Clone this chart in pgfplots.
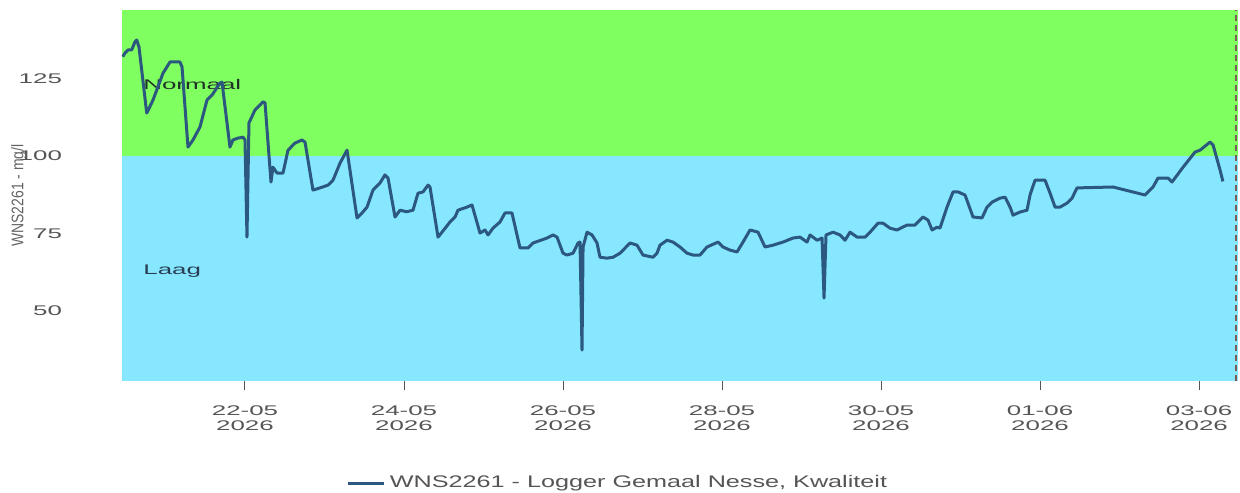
\documentclass[border=0pt]{standalone}
\usepackage{fontspec}
\setmainfont{Liberation Sans}
\newfontfamily\tickfont{Liberation Sans}[FakeStretch=1.85]
\newfontfamily\legfont{Liberation Sans}[FakeStretch=1.5]
\newfontfamily\ylabfont{Liberation Sans}[FakeStretch=0.83]
\usepackage{pgfplots}
\pgfplotsset{compat=1.18}
\definecolor{bandgreen}{RGB}{128,255,96}
\definecolor{bandblue}{RGB}{135,231,255}
\definecolor{linecol}{RGB}{44,88,128}
\definecolor{tickgray}{RGB}{85,85,85}
\definecolor{labgray}{RGB}{100,100,100}
\definecolor{nowcol}{RGB}{125,90,85}
\definecolor{normcol}{RGB}{30,50,40}
\definecolor{laagcol}{RGB}{40,62,82}

\pgfplotstableread{
d v
-0.538 132.1
-0.509 133.3
-0.472 134.3
-0.425 134.3
-0.384 136.9
-0.362 137.5
-0.333 135.2
-0.236 113.9
-0.216 114.9
-0.157 118.1
-0.031 126.8
0.057 130.4
0.182 130.4
0.208 128.8
0.283 102.9
0.346 105.2
0.434 109.4
0.522 118.1
0.585 119.7
0.686 123.6
0.711 123.9
0.811 102.9
0.849 105.2
0.912 105.8
0.975 106.1
1.000 105.2
1.025 73.8
1.050 110.7
1.126 114.9
1.226 117.5
1.252 117.2
1.327 91.6
1.352 96.4
1.403 94.5
1.478 94.5
1.541 101.9
1.629 104.2
1.717 105.2
1.755 104.5
1.855 89.0
1.943 89.7
2.044 90.6
2.107 92.2
2.195 97.7
2.283 101.9
2.296 99.7
2.409 80.0
2.472 81.6
2.535 83.5
2.610 89.0
2.698 91.3
2.761 93.9
2.799 92.9
2.887 80.3
2.950 82.5
3.034 82.0
3.113 82.5
3.176 88.0
3.239 88.4
3.302 90.6
3.327 90.0
3.428 73.8
3.478 75.4
3.579 78.7
3.642 80.3
3.679 82.5
3.792 83.5
3.855 84.2
3.956 75.1
4.019 76.1
4.057 74.5
4.119 76.7
4.208 78.7
4.270 81.6
4.358 81.6
4.459 70.3
4.560 70.3
4.623 71.9
4.799 73.5
4.874 74.5
4.925 73.8
5.000 68.6
5.050 68.0
5.126 68.6
5.189 71.9
5.214 72.2
5.239 37.3
5.252 70.6
5.302 75.4
5.365 74.5
5.428 71.9
5.465 67.3
5.553 67.0
5.629 67.3
5.717 68.6
5.843 71.9
5.931 71.2
6.006 68.0
6.132 67.3
6.182 68.6
6.220 71.2
6.308 72.8
6.384 72.2
6.472 70.6
6.560 68.6
6.635 68.0
6.723 68.0
6.811 70.6
6.950 72.2
7.013 70.6
7.101 69.6
7.189 69.0
7.264 72.2
7.352 76.1
7.453 75.4
7.541 70.6
7.642 71.2
7.767 72.2
7.893 73.5
7.981 73.8
8.069 72.2
8.107 74.5
8.195 72.8
8.258 73.5
8.283 54.1
8.308 74.5
8.396 75.4
8.484 74.5
8.547 72.8
8.610 75.4
8.698 73.8
8.799 73.8
8.862 75.4
8.962 78.3
9.025 78.3
9.113 76.7
9.201 76.1
9.327 77.7
9.428 77.7
9.528 80.3
9.591 79.3
9.642 76.1
9.704 77.0
9.742 76.7
9.830 83.5
9.906 88.4
9.969 88.4
10.057 87.4
10.157 80.3
10.270 80.0
10.333 83.5
10.396 85.1
10.497 86.4
10.560 86.7
10.623 83.5
10.660 80.9
10.748 81.9
10.836 82.5
10.874 87.4
10.937 92.2
11.063 92.2
11.126 88.0
11.189 83.5
11.252 83.5
11.340 84.8
11.403 86.4
11.440 88.4
11.465 89.7
11.918 90.0
12.321 87.4
12.421 90.0
12.484 92.9
12.610 92.9
12.660 91.6
12.799 96.4
12.950 101.3
13.013 101.9
13.138 104.5
13.176 103.6
13.264 95.5
13.300 91.8
}\datatable

\begin{document}
\begin{tikzpicture}
\begin{axis}[
  scale only axis, width=558pt, height=185.5pt,
  xmin=-0.547, xmax=13.49, ymin=27.3, ymax=147.2,
  axis line style={draw=none},
  xtick pos=bottom, ytick pos=left,
  xtick={1,3,5,7,9,11,13},
  xticklabels={{22-05\\2026},{24-05\\2026},{26-05\\2026},{28-05\\2026},{30-05\\2026},{01-06\\2026},{03-06\\2026}},
  xticklabel style={align=center, font=\tickfont\fontsize{7}{7.5}\selectfont, text=tickgray, yshift=-4.5pt},
  ytick={50,75,100,125},
  yticklabels={\mbox{\tickfont 50},\mbox{\tickfont 75},\mbox{\tickfont 100},\mbox{\tickfont 125}},
  yticklabel style={font=\tickfont\fontsize{7}{7.5}\selectfont, text=tickgray, anchor=east, xshift=-22pt},
  tick align=outside,
  major tick length=4.5pt,
  xtick style={draw=tickgray, line width=0.5pt},
  ytick style={draw=none},
  legend style={at={(axis description cs:0.5,0)}, anchor=center, xshift=-30.5pt, yshift=-51pt,
    draw=none, fill=none, font=\legfont\fontsize{8.4}{9}\selectfont, text=tickgray},
  legend image code/.code={\draw[#1, line width=1.5pt] (0pt,0pt) -- (15pt,0pt); \path (0pt,0pt) -- (18pt,0pt);},
]
\addplot[draw=none, fill=bandgreen, forget plot] coordinates {(-0.547,100) (13.49,100) (13.49,147.2) (-0.547,147.2)} -- cycle;
\addplot[draw=none, fill=bandblue, forget plot] coordinates {(-0.547,27.3) (13.49,27.3) (13.49,100) (-0.547,100)} -- cycle;
\addplot[nowcol, line width=1pt, dash pattern=on 3pt off 2pt, forget plot] coordinates {(13.47,27.3) (13.47,147.2)};
\node[anchor=west, inner sep=0pt, font=\tickfont\fontsize{7}{7.5}\selectfont, text=normcol] at (axis cs:-0.283,123.0) {Normaal};
\node[anchor=west, inner sep=0pt, font=\tickfont\fontsize{7}{7.5}\selectfont, text=laagcol] at (axis cs:-0.283,62.8) {Laag};
\addplot[linecol, line width=1.5pt, line join=round] table[x=d, y=v] {\datatable};
\addlegendentry{WNS2261 - Logger Gemaal Nesse, Kwaliteit}
\end{axis}
\node[rotate=90, font=\ylabfont\fontsize{8.4}{9}\selectfont, text=labgray] at ([xshift=-51.5pt]current axis.west) {WNS2261 - mg/l};
\pgfresetboundingbox
\path (current axis.south west) ++(-61pt,-55.5pt) rectangle ++(620pt,246pt);
\end{tikzpicture}
\end{document}
